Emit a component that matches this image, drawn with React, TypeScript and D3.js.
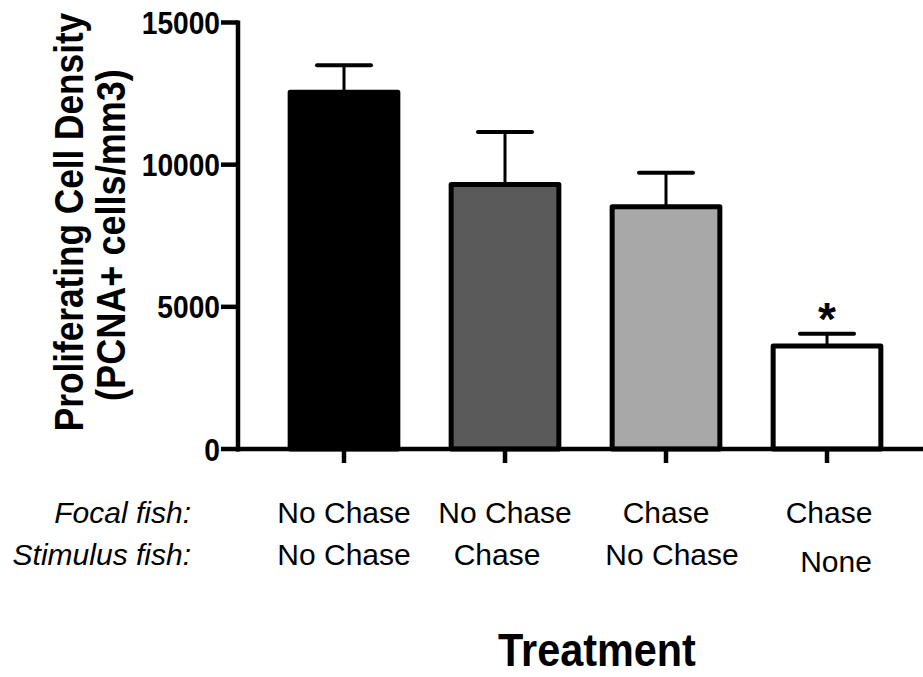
import React from 'react';
import * as d3 from 'd3';

const groups = ['g1', 'g2', 'g3', 'g4'];
const means = [12550, 9300, 8520, 3620];
const errTops = [13500, 11150, 9720, 4050];
const fills = ['#000000', '#5a5a5a', '#a8a8a8', '#ffffff'];
const focalLabels = ['No Chase', 'No Chase', 'Chase', 'Chase'];
const stimulusLabels = ['No Chase', 'Chase', 'No Chase', 'None'];
const yTicks = [0, 5000, 10000, 15000];

const W = 923;
const H = 677;
const font = 'Liberation Sans, Arial, Helvetica, sans-serif';
const squeeze = 0.88; // bold text in the original is a bit narrower than Arial

const App = () => {
  const x = d3.scaleBand<string>()
    .domain(groups)
    .range([263.5, 907.5])
    .paddingInner(0.3)
    .paddingOuter(0.15);
  const y = d3.scaleLinear().domain([0, 15000]).range([449, 22.5]);
  const axisX = 238;
  const bw = x.bandwidth();

  // small nudges so the label rows line up like the original
  const stimNudge = [0, -8, 6, 9];
  const stimDrop = [0, 0, 0, 7];

  return (
    <svg width={W} height={H} style={{ position: 'absolute', left: 0, top: 0 }}>
      <rect width={W} height={H} fill="#fff" />

      {/* bars */}
      {groups.map((g, i) => {
        const x0 = x(g)! + 2.5;
        const cx = x(g)! + bw / 2;
        return (
          <g key={g}>
            <line x1={cx} x2={cx} y1={y(means[i])} y2={y(errTops[i])} stroke="#000" strokeWidth={3} />
            <line x1={cx - 27} x2={cx + 27} y1={y(errTops[i])} y2={y(errTops[i])}
              stroke="#000" strokeWidth={4} strokeLinecap="round" />
            <rect x={x0} y={y(means[i])} width={bw - 5} height={y(0) - y(means[i])}
              fill={fills[i]} stroke="#000" strokeWidth={5} strokeLinejoin="round" />
          </g>
        );
      })}

      {/* asterisk */}
      <text x={x('g4')! + bw / 2} y={y(errTops[3]) + 1} textAnchor="middle"
        fontFamily={font} fontWeight="bold" fontSize={46}>*</text>

      {/* y axis */}
      <line x1={axisX} x2={axisX} y1={y(15000) - 2} y2={y(0) + 2.5} stroke="#000" strokeWidth={4.5} />
      {yTicks.map(t => (
        <g key={t}>
          <line x1={axisX - 17} x2={axisX} y1={y(t)} y2={y(t)} stroke="#000" strokeWidth={4.5} />
          <text transform={`translate(${axisX - 18},${y(t) + 11.5}) scale(${squeeze},1)`} textAnchor="end"
            fontFamily={font} fontWeight="bold" fontSize={32}>{t}</text>
        </g>
      ))}

      {/* x axis */}
      <line x1={axisX - 2} x2={W} y1={y(0)} y2={y(0)} stroke="#000" strokeWidth={4.5} />
      {groups.map(g => (
        <line key={g} x1={x(g)! + bw / 2} x2={x(g)! + bw / 2} y1={y(0)} y2={y(0) + 14}
          stroke="#000" strokeWidth={4.5} />
      ))}

      {/* category rows */}
      <text x={191} y={523} textAnchor="end" fontFamily={font} fontStyle="italic" fontSize={30}>Focal fish:</text>
      <text x={191} y={565} textAnchor="end" fontFamily={font} fontStyle="italic" fontSize={30}>Stimulus fish:</text>
      {groups.map((g, i) => (
        <g key={g}>
          <text x={x(g)! + bw / 2 + (i === 3 ? 2 : 0)} y={523} textAnchor="middle" fontFamily={font} fontSize={30}>
            {focalLabels[i]}
          </text>
          <text x={x(g)! + bw / 2 + stimNudge[i]} y={565 + stimDrop[i]} textAnchor="middle" fontFamily={font} fontSize={30}>
            {stimulusLabels[i]}
          </text>
        </g>
      ))}

      {/* titles */}
      <text transform={`translate(83,222) rotate(-90) scale(${squeeze},1)`} textAnchor="middle"
        fontFamily={font} fontWeight="bold" fontSize={40}>Proliferating Cell Density</text>
      <text transform={`translate(125,235) rotate(-90) scale(${squeeze},1)`} textAnchor="middle"
        fontFamily={font} fontWeight="bold" fontSize={41}>(PCNA+ cells/mm3)</text>
      <text transform={`translate(597,666) scale(0.9,1)`} textAnchor="middle"
        fontFamily={font} fontWeight="bold" fontSize={46}>Treatment</text>
    </svg>
  );
};

export default App;
